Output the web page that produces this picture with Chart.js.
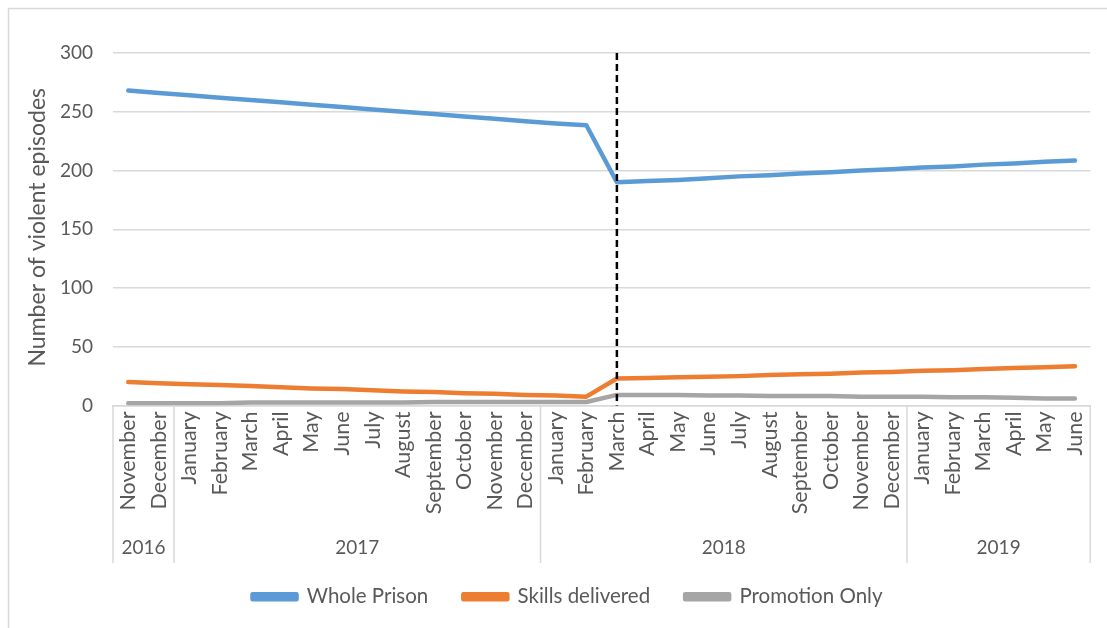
<!DOCTYPE html>
<html>
<head>
<meta charset="utf-8">
<script src="https://cdn.jsdelivr.net/npm/chart.js@4.4.1/dist/chart.umd.min.js"></script>
<style>
html,body{margin:0;padding:0;background:#fff;}
#wrap{width:1107px;height:628px;position:relative;}
</style>
</head>
<body>
<div id="wrap"><canvas id="c" width="1107" height="628"></canvas></div>
<script>
const months = ["November","December","January","February","March","April","May","June","July","August","September","October","November","December","January","February","March","April","May","June","July","August","September","October","November","December","January","February","March","April","May","June"];
const yearLabels = ["2016","2017","2018","2019"];
const yearCounts = [2, 12, 12, 6];
const wholePrison = [268,266,264,262,260,258,256,254,252,250,248,246,244,242,240,238.5,190,191,192,193.5,195,196,197.5,198.5,200,201,202.5,203.5,205,206,207.5,208.5];
const skillsDelivered = [20,19,18,17.5,16.5,15.5,14.5,14,13,12,11.5,10.5,10,9,8.5,7.5,23,23.5,24,24.5,25,26,26.5,27,28,28.5,29.5,30,31,32,32.5,33.5];
const promotionOnly = [2,2,2,2,2.5,2.5,2.5,2.5,2.5,2.5,3,3,3,3,3,3,9,9,9,8.5,8.5,8,8,8,7.5,7.5,7.5,7,7,6.5,6,6];
const yTicks = [0,50,100,150,200,250,300];
const yTitle = "Number of violent episodes";
const interventionIndex = 16;

const FONT = "Lato, 'Open Sans', sans-serif";
const TXT = "#595959";
const GRID = "#d9d9d9";

const extras = {
  id: 'extras',
  beforeDraw(chart) {
    const ctx = chart.ctx;
    ctx.save();
    ctx.strokeStyle = GRID;
    ctx.lineWidth = 1.5;
    ctx.beginPath();
    ctx.moveTo(8.5, 1200); ctx.lineTo(8.5, 8.5); ctx.lineTo(1200, 8.5);
    ctx.stroke();
    ctx.restore();
  },
  afterDatasetsDraw(chart) {
    const ctx = chart.ctx;
    const x = chart.scales.x;
    const y = chart.scales.y;
    const xi = x.getPixelForValue(interventionIndex);
    ctx.save();
    ctx.strokeStyle = "#000";
    ctx.lineWidth = 2.5;
    ctx.setLineDash([7, 4]);
    ctx.beginPath();
    ctx.moveTo(xi, y.getPixelForValue(300));
    ctx.lineTo(xi, y.getPixelForValue(0));
    ctx.stroke();
    ctx.restore();
  },
  afterDraw(chart) {
    const ctx = chart.ctx;
    const x = chart.scales.x;
    const y = chart.scales.y;
    const ca = chart.chartArea;
    const bottom = 563;
    const half = (x.getPixelForValue(1) - x.getPixelForValue(0)) / 2;
    ctx.save();
    ctx.strokeStyle = GRID;
    ctx.lineWidth = 1.5;
    let idx = 0;
    const bounds = [ca.left];
    yearCounts.forEach(c => { idx += c; bounds.push(x.getPixelForValue(idx - 1) + half); });
    bounds[bounds.length - 1] = ca.right;
    bounds.forEach(b => {
      ctx.beginPath(); ctx.moveTo(b, ca.bottom); ctx.lineTo(b, bottom); ctx.stroke();
    });
    ctx.fillStyle = TXT;
    ctx.font = "19px " + FONT;
    ctx.textAlign = "center";
    ctx.textBaseline = "middle";
    yearLabels.forEach((lab, i) => {
      ctx.fillText(lab, (bounds[i] + bounds[i + 1]) / 2, 548);
    });
    // y-axis title
    ctx.save();
    ctx.translate(38, (y.top + y.bottom) / 2 - 2);
    ctx.rotate(-Math.PI / 2);
    ctx.font = "23px " + FONT;
    ctx.fillText(yTitle, 0, 0);
    ctx.restore();
    ctx.restore();
  }
};

new Chart(document.getElementById('c'), {
  type: 'line',
  data: {
    labels: months,
    datasets: [
      {label: 'Whole Prison', data: wholePrison, borderColor: '#5B9BD5', backgroundColor: '#5B9BD5'},
      {label: 'Skills delivered', data: skillsDelivered, borderColor: '#ED7D31', backgroundColor: '#ED7D31'},
      {label: 'Promotion Only', data: promotionOnly, borderColor: '#A5A5A5', backgroundColor: '#A5A5A5'}
    ]
  },
  options: {
    responsive: false,
    devicePixelRatio: 1,
    animation: false,
    layout: {padding: {top: 53, right: 15, bottom: 11, left: 43}},
    elements: {
      line: {borderWidth: 4.5, tension: 0, borderCapStyle: 'round', borderJoinStyle: 'round'},
      point: {radius: 0, hoverRadius: 0}
    },
    plugins: {
      tooltip: {enabled: false},
      legend: {
        position: 'bottom',
        labels: {
          font: {family: FONT, size: 20.5},
          color: TXT,
          boxWidth: 44,
          boxHeight: 5,
          padding: 35
        }
      }
    },
    scales: {
      x: {
        offset: true,
        grid: {display: false, drawTicks: false},
        border: {display: true, color: GRID, width: 1.5},
        ticks: {
          autoSkip: false,
          minRotation: 90,
          maxRotation: 90,
          padding: 6,
          color: TXT,
          font: {family: FONT, size: 21.5}
        },
        afterFit(s) { s.height = 146; }
      },
      y: {
        min: 0, max: 300,
        afterBuildTicks(s) { s.ticks = yTicks.map(v => ({value: v})); },
        grid: {color: GRID, lineWidth: 1.5, drawTicks: false},
        border: {display: false},
        ticks: {padding: 20, color: TXT, font: {family: FONT, size: 19}},
        afterFit(s) { s.width = 70; }
      }
    }
  },
  plugins: [extras]
});
</script>
</body>
</html>
